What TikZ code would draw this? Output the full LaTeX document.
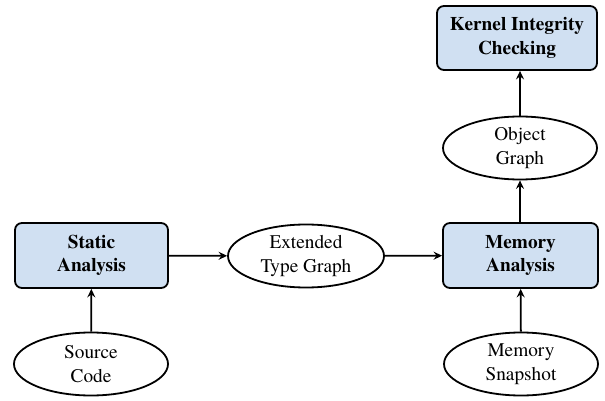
\documentclass[tikz,border=0pt]{standalone}
\usepackage{fontspec}
\setmainfont{TeX Gyre Termes}
\usetikzlibrary{shapes.geometric,arrows.meta}
\definecolor{boxblue}{RGB}{208,224,242}
\tikzset{
  procbox/.style={draw, line width=1.8pt, rounded corners=7pt, fill=boxblue,
    minimum width=153pt, minimum height=65pt, align=center,
    font=\fontsize{19.3}{23.5}\selectfont\bfseries, inner sep=0pt},
  dataell/.style={draw, line width=1.8pt, ellipse, fill=white,
    minimum width=154pt, minimum height=63pt, align=center,
    font=\fontsize{19.3}{23.5}\selectfont, inner sep=0pt},
  flow/.style={line width=1.8pt, -{Stealth[length=8.5pt,width=8pt,inset=3pt]}}
}
\begin{document}
\begin{tikzpicture}[x=1pt,y=-1pt]
\useasboundingbox (0,0) rectangle (605,401);
\node[procbox] (static) at (91.5,255.5) {Static\\Analysis};
\node[dataell] (source) at (91,364) {Source\\Code};
\node[dataell, minimum width=156pt] (etg) at (306,256) {Extended\\Type Graph};
\node[procbox, minimum width=155pt] (mem) at (520.5,255.5) {Memory\\Analysis};
\node[dataell] (snap) at (521,364) {Memory\\Snapshot};
\node[dataell] (obj) at (520,148) {Object\\Graph};
\node[procbox, minimum width=160pt, minimum height=64pt] (kic) at (517,38) {Kernel Integrity\\Checking};
\draw[flow] (source) -- (static);
\draw[flow] (static) -- (etg);
\draw[flow] (etg) -- (mem);
\draw[flow] (snap) -- (mem);
\draw[flow] (mem.north -| obj.south) -- (obj.south);
\draw[flow] (obj.north) -- (obj.north |- kic.south);
\end{tikzpicture}
\end{document}
